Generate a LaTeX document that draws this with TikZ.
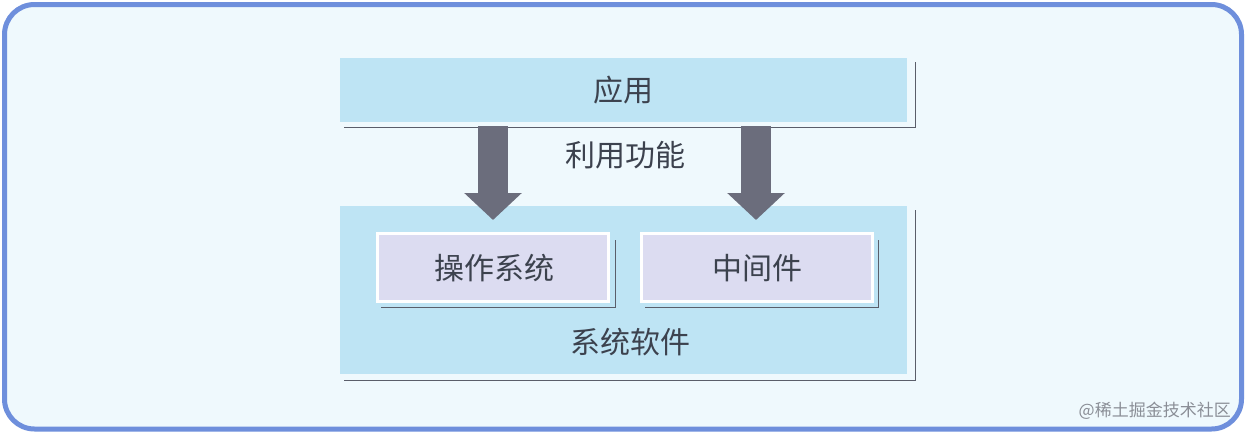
\documentclass[tikz,border=0pt]{standalone}
\usepackage{fontspec}
\setmainfont{Noto Sans CJK SC}
\usetikzlibrary{arrows.meta,calc}
\definecolor{frameblue}{HTML}{6E8FDC}
\definecolor{bgpale}{HTML}{EFF9FD}
\definecolor{boxblue}{HTML}{BEE4F4}
\definecolor{boxlav}{HTML}{DCDCF1}
\definecolor{shadowgray}{HTML}{5A5E6A}
\definecolor{arrowgray}{HTML}{6B6D7C}
\definecolor{txt}{HTML}{3C424E}
\definecolor{wm}{HTML}{8A8E96}
\tikzset{
  layerbox/.style={fill=boxblue, draw=none, anchor=north west, inner sep=0pt},
  innerbox/.style={fill=boxlav, draw=white, line width=2.5pt, anchor=north west, inner sep=0pt},
  lbl/.style={text=txt, font=\fontsize{30}{30}\selectfont, inner sep=0pt},
  shadowline/.style={draw=shadowgray, line width=1.6pt},
  bigarrow/.style={draw=arrowgray, line width=30pt, -{Triangle[width=56pt,length=27pt]}},
}
\begin{document}
\begin{tikzpicture}[x=1pt,y=-1pt]
\useasboundingbox (0,0) rectangle (1246,434);
\fill[white] (0,0) rectangle (1246,434);
\draw[frameblue, line width=5pt, fill=bgpale, rounded corners=30pt] (4.5,4.5) rectangle (1241.5,429);

% application layer
\node[layerbox, minimum width=567pt, minimum height=64pt] (app) at (340,58) {};
\node[lbl] (applbl) at (app.center) {应用};
\draw[shadowline] ($(app.south west)+(4,5)$) -| ($(app.north east)+(8,4)$);

% system software layer
\node[layerbox, minimum width=567pt, minimum height=168pt] (sys) at (340,206) {};
\node[lbl] (syslbl) at (630,342) {系统软件};
\draw[shadowline] ($(sys.south west)+(4,6)$) -| ($(sys.north east)+(8,4)$);

% inner boxes
\node[innerbox, minimum width=231pt, minimum height=68pt] (os) at (376,232) {};
\node[lbl] (oslbl) at (494,268) {操作系统};
\draw[shadowline] ($(os.south west)+(5,5)$) -| ($(os.north east)+(6,8)$);

\node[innerbox, minimum width=231pt, minimum height=68pt] (mw) at (640,232) {};
\node[lbl] (mwlbl) at (757,268) {中间件};
\draw[shadowline] ($(mw.south west)+(5,5)$) -| ($(mw.north east)+(5,8)$);

% arrows
\coordinate (a1s) at (493,126);
\coordinate (a1e) at (493,220);
\coordinate (a2s) at (756,126);
\coordinate (a2e) at (756,220);
\draw[bigarrow] (a1s) -- (a1e);
\draw[bigarrow] (a2s) -- (a2e);

\node[lbl] (use) at (625,155) {利用功能};

% watermark
\node[text=wm, font=\fontsize{17}{17}\selectfont, inner sep=0pt, anchor=east] (wmk) at (1231,411) {@稀土掘金技术社区};
\end{tikzpicture}
\end{document}
